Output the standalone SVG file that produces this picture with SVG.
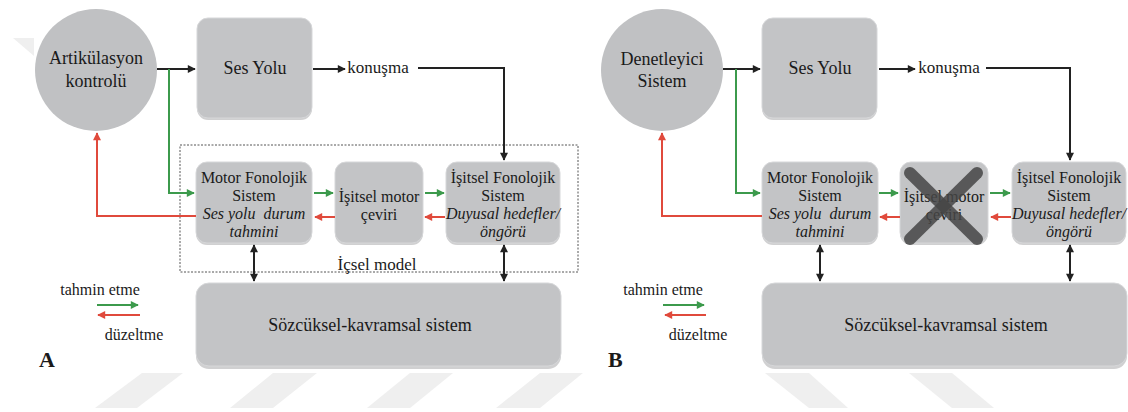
<svg xmlns="http://www.w3.org/2000/svg" width="1128" height="412" viewBox="0 0 1128 412" font-family="'Liberation Serif', Tinos, 'DejaVu Serif', serif">
<style>
text{font-family:'Liberation Serif',Tinos,'DejaVu Serif',serif;fill:#1a1a1a;text-anchor:middle}
.t18{font-size:18px}
.t17{font-size:17px}
.t16{font-size:16px}
.it{font-style:italic}
.box{fill:#c3c4c6;stroke:#d6d7d9;stroke-width:1}
.shadow{fill:#a9aaac;opacity:.55}
.wm{fill:#efefef}
.blk{stroke:#222;stroke-width:2;fill:none}
.grn{stroke:#3c9a4c;stroke-width:2;fill:none}
.red{stroke:#e04a3c;stroke-width:2;fill:none}
.lbl{font-size:22px;font-weight:bold;text-anchor:start}
</style>
<defs>
<marker id="ab" viewBox="0 0 10 10" refX="9" refY="5" markerWidth="9" markerHeight="8" markerUnits="userSpaceOnUse" orient="auto-start-reverse"><path d="M0,0 L10,5 L0,10 z" fill="#222"/></marker>
<marker id="ag" viewBox="0 0 10 10" refX="9" refY="5" markerWidth="9" markerHeight="8" markerUnits="userSpaceOnUse" orient="auto"><path d="M0,0 L10,5 L0,10 z" fill="#3c9a4c"/></marker>
<marker id="ar" viewBox="0 0 10 10" refX="9" refY="5" markerWidth="9" markerHeight="8" markerUnits="userSpaceOnUse" orient="auto"><path d="M0,0 L10,5 L0,10 z" fill="#e04a3c"/></marker>
</defs>
<rect width="1128" height="412" fill="#fff"/>
<g id="watermark">
<polygon class="wm" points="13,38 34,38 34,56"/>
<polygon class="wm" points="95,408 142,373 183,373 137,408"/>
<polygon class="wm" points="230,408 273,373 317,373 273,408"/>
<polygon class="wm" points="367,408 410,373 453,373 410,408"/>
<polygon class="wm" points="496,408 540,373 583,373 540,408"/>
<polygon class="wm" points="765,373 809,373 848,408 809,408"/>
<polygon class="wm" points="909,373 952,373 994,408 952,408"/>
</g>
<g id="A-internal-model">
<rect x="180" y="145" width="398" height="127" fill="none" stroke="#555" stroke-width="1" stroke-dasharray="2,1.5"/>
<text class="t17" x="377" y="270">İçsel model</text>
</g>
<g id="A-artikulasyon">
<circle cx="96" cy="70" r="61" fill="#c0c1c3"/>
<text class="t18" x="96" y="64">Artikülasyon</text>
<text class="t18" x="96" y="87">kontrolü</text>
</g>
<g id="A-sesyolu">
<rect class="shadow" x="197" y="21" width="115" height="99" rx="11"/>
<rect class="box" x="197" y="18" width="115" height="100" rx="11"/>
<text class="t18" x="255" y="74">Ses Yolu</text>
</g>
<g id="A-konusma"><text class="t17" x="378" y="73">konuşma</text></g>
<g id="A-motor">
<rect class="shadow" x="196" y="164" width="116" height="81" rx="11"/>
<rect class="box" x="196" y="162" width="116" height="81" rx="11"/>
<text class="t16" x="254" y="183">Motor Fonolojik</text>
<text class="t16" x="254" y="201">Sistem</text>
<text class="t16 it" x="254" y="219">Ses yolu &#160;durum</text>
<text class="t16 it" x="254" y="237">tahmini</text>
</g>
<g id="A-isitselmotor">
<rect class="shadow" x="335" y="164" width="88" height="81" rx="11"/>
<rect class="box" x="335" y="162" width="88" height="81" rx="11"/>
<text class="t16" x="379" y="202">İşitsel motor</text>
<text class="t16" x="379" y="220">çeviri</text>
</g>
<g id="A-isitselfon">
<rect class="shadow" x="446" y="164" width="114" height="81" rx="11"/>
<rect class="box" x="446" y="162" width="114" height="81" rx="11"/>
<text class="t16" x="503" y="183">İşitsel Fonolojik</text>
<text class="t16" x="503" y="201">Sistem</text>
<text class="t16 it" x="503" y="219">Duyusal hedefler/</text>
<text class="t16 it" x="503" y="237">öngörü</text>
</g>
<g id="A-sozcuksel">
<rect class="shadow" x="196" y="286" width="365" height="83" rx="13"/>
<rect class="box" x="196" y="283" width="365" height="83" rx="13"/>
<text class="t18" x="370" y="331">Sözcüksel-kavramsal sistem</text>
</g>
<g id="A-legend">
<text class="t16" x="100" y="295">tahmin etme</text>
<text class="t16" x="134" y="340">düzeltme</text>
<text class="lbl" x="39" y="367">A</text>
</g>
<g id="B-denetleyici">
<circle cx="662" cy="70" r="61" fill="#c0c1c3"/>
<text class="t18" x="662" y="65">Denetleyici</text>
<text class="t18" x="662" y="87">Sistem</text>
</g>
<g id="B-sesyolu">
<rect class="shadow" x="762" y="21" width="115" height="99" rx="11"/>
<rect class="box" x="762" y="18" width="115" height="100" rx="11"/>
<text class="t18" x="820" y="74">Ses Yolu</text>
</g>
<g id="B-konusma"><text class="t17" x="949" y="73">konuşma</text></g>
<g id="B-motor">
<rect class="shadow" x="762" y="164" width="116" height="81" rx="11"/>
<rect class="box" x="762" y="162" width="116" height="81" rx="11"/>
<text class="t16" x="820" y="183">Motor Fonolojik</text>
<text class="t16" x="820" y="201">Sistem</text>
<text class="t16 it" x="820" y="219">Ses yolu &#160;durum</text>
<text class="t16 it" x="820" y="237">tahmini</text>
</g>
<g id="B-isitselmotor">
<rect class="shadow" x="900" y="164" width="88" height="81" rx="11"/>
<rect class="box" x="900" y="162" width="88" height="81" rx="11"/>
<text class="t16" x="944" y="202">İşitsel motor</text>
<text class="t16" x="944" y="220">çeviri</text>
<line x1="910" y1="173" x2="977" y2="239" stroke="#454545" stroke-opacity=".85" stroke-width="12" stroke-linecap="round"/>
<line x1="977" y1="173" x2="910" y2="239" stroke="#454545" stroke-opacity=".85" stroke-width="12" stroke-linecap="round"/>
</g>
<g id="B-isitselfon">
<rect class="shadow" x="1012" y="164" width="114" height="81" rx="11"/>
<rect class="box" x="1012" y="162" width="114" height="81" rx="11"/>
<text class="t16" x="1069" y="183">İşitsel Fonolojik</text>
<text class="t16" x="1069" y="201">Sistem</text>
<text class="t16 it" x="1069" y="219">Duyusal hedefler/</text>
<text class="t16 it" x="1069" y="237">öngörü</text>
</g>
<g id="B-sozcuksel">
<rect class="shadow" x="762" y="286" width="365" height="83" rx="13"/>
<rect class="box" x="762" y="283" width="365" height="83" rx="13"/>
<text class="t18" x="946" y="331">Sözcüksel-kavramsal sistem</text>
</g>
<g id="B-legend">
<text class="t16" x="663" y="295">tahmin etme</text>
<text class="t16" x="698" y="340">düzeltme</text>
<text class="lbl" x="608" y="367">B</text>
</g>
<g id="connectors">
<path class="blk" d="M157,69 H195" marker-end="url(#ab)"/>
<path class="grn" d="M169,69 V193 H194" marker-end="url(#ag)"/>
<path class="red" d="M196,216 H97 V133" marker-end="url(#ar)"/>
<path class="blk" d="M313,69 H345" marker-end="url(#ab)"/>
<path class="blk" d="M418,68 H504 V160" marker-end="url(#ab)"/>
<path class="grn" d="M314,193 H333" marker-end="url(#ag)"/>
<path class="grn" d="M425,193 H444" marker-end="url(#ag)"/>
<path class="red" d="M335,217 H315" marker-end="url(#ar)"/>
<path class="red" d="M445,217 H425" marker-end="url(#ar)"/>
<path class="blk" d="M254,245 V281" marker-start="url(#ab)" marker-end="url(#ab)"/>
<path class="blk" d="M504,245 V281" marker-start="url(#ab)" marker-end="url(#ab)"/>
<path class="grn" d="M97,305 H138" marker-end="url(#ag)"/>
<path class="red" d="M140,315 H98" marker-end="url(#ar)"/>
<path class="blk" d="M723,69 H760" marker-end="url(#ab)"/>
<path class="grn" d="M736,69 V193 H760" marker-end="url(#ag)"/>
<path class="red" d="M762,216 H662 V133" marker-end="url(#ar)"/>
<path class="blk" d="M879,69 H915" marker-end="url(#ab)"/>
<path class="blk" d="M986,68 H1070 V160" marker-end="url(#ab)"/>
<path class="grn" d="M879,193 H898" marker-end="url(#ag)"/>
<path class="grn" d="M990,193 H1010" marker-end="url(#ag)"/>
<path class="red" d="M900,217 H880" marker-end="url(#ar)"/>
<path class="red" d="M1011,217 H991" marker-end="url(#ar)"/>
<path class="blk" d="M820,245 V281" marker-start="url(#ab)" marker-end="url(#ab)"/>
<path class="blk" d="M1070,245 V281" marker-start="url(#ab)" marker-end="url(#ab)"/>
<path class="grn" d="M663,305 H704" marker-end="url(#ag)"/>
<path class="red" d="M706,315 H665" marker-end="url(#ar)"/>
</g>
</svg>
